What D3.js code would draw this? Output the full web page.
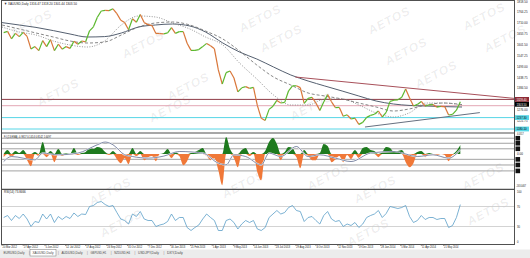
<!DOCTYPE html>
<html><head><meta charset="utf-8">
<script src="https://cdn.jsdelivr.net/npm/d3@7/dist/d3.min.js"></script>
<style>
body{margin:0;background:#fff}
svg{display:block}
text{font-family:"Liberation Sans",Arial,sans-serif}
</style></head>
<body><svg id="c" width="530" height="258"></svg>
<script>
// ---------- DATA ----------
const firstWeek = "2012-03-23";   // weekly samples (Fridays)
const closes = [1662,1668,1631,1658,1642,1663,1643,1580,1592,1572,
1622,1592,1627,1572,1604,1579,1592,1583,1619,1604,
1620,1616,1671,1691,1739,1770,1773,1772,1781,1757,
1724,1712,1676,1731,1714,1752,1712,1702,1697,1658,
1657,1656,1661,1687,1658,1667,1667,1609,1573,1573,
1577,1592,1608,1596,1581,1476,1405,1462,1470,1435,
1366,1386,1392,1383,1388,1297,1234,1223,1278,1294,
1323,1310,1313,1371,1396,1396,1387,1308,1333,1338,
1310,1273,1315,1352,1316,1287,1288,1244,1251,1230,
1234,1203,1213,1238,1248,1254,1270,1240,1263,1318,
1324,1326,1339,1380,1335,1295,1303,1318,1294,1301,
1302,1289,1293,1292,1250,1253,1274,1316];
const forceIndex = [-3,4,-3,3,1,4,-6,-12,2,-2,
12,-3,3,-8,5,-2,1,-1,6,-1,
1,2,6,5,7,6,2,-1,3,-5,
-9,-4,-10,6,-2,3,-6,-3,-2,-7,
0,1,5,-4,2,-2,-11,-7,1,2,
4,6,-2,-6,-4,-16,-31,17,5,-4,
-13,4,6,-2,2,-18,-26,3,12,16,
10,-6,2,7,6,-3,-14,4,-2,-6,
-6,1,10,8,-8,-5,-2,-8,-1,-5,
4,-4,6,7,4,3,-3,2,7,6,
2,3,4,-8,-13,-9,2,3,-3,1,
-1,-1,0,-1,-7,-1,3,9];
const fiSignalWeek = [0,2,8,10,14,19,24,26,28,31,33,37,41,45,51,55,57,59,62,66,68,71,75,78,81,85,89,94,100,106,110,114,117];
const fiSignal     = [-7.4,-2.4,-5.7,1,-0.7,1,9.3,12,9.3,-0.7,-2.4,-4,-2,2.6,1,-9,-10.7,-0.7,-2.4,-10.7,1,-2.4,7.6,-2.4,-0.7,-4,-7.4,1,2.6,-2.4,-0.7,-4,4.3];
const rsi = [48,52,42,52,46,55,45,30,40,38,
55,45,55,38,50,44,50,46,57,50,
55,54,70,72,78,80,74,70,72,58,
45,42,35,55,50,60,45,42,42,30,
33,35,40,55,42,48,48,28,22,28,
33,45,55,48,42,22,22,42,45,38,
25,35,42,38,42,25,22,28,48,55,
62,55,58,68,72,62,60,40,48,50,
42,35,52,60,45,40,42,30,35,32,
38,28,35,48,52,55,62,48,56,70,
68,66,68,72,50,38,42,52,44,48,
48,44,46,46,28,32,48,73.8];
const maDates = ["2012-03-20","2012-04-20","2012-05-20","2012-06-20","2012-07-20","2012-08-20","2012-09-20","2012-10-20","2012-11-20","2012-12-20","2013-01-20","2013-02-20","2013-03-20","2013-04-20","2013-05-20","2013-06-20","2013-07-20","2013-08-20","2013-09-20","2013-10-20","2013-11-20","2013-12-20","2014-01-20","2014-02-20","2014-03-20","2014-04-20","2014-05-20","2014-06-23"];
const maSlow = [1712,1700,1688,1672,1655,1640,1642,1660,1690,1700,1705,1695,1665,1610,1565,1530,1490,1450,1420,1395,1370,1345,1320,1305,1298,1295,1292,1290];
const maMid  = [1700,1680,1660,1640,1620,1610,1615,1650,1690,1710,1715,1700,1670,1630,1570,1500,1440,1400,1360,1345,1330,1310,1290,1270,1280,1300,1310,1302];
const maFast = [1690,1665,1650,1620,1600,1590,1620,1700,1745,1740,1710,1680,1640,1600,1510,1430,1350,1300,1300,1330,1330,1300,1260,1240,1260,1310,1310,1300];
const priceTicks = [1818.50,1764.25,1710.00,1655.75,1601.50,1547.25,1493.00,1438.75,1384.50,1276.00,1221.75];
const levelPrices = [1328,1296.5,1237,1180];
const levelLabels = ["1328.40","","1237.30","1180.10"];
const levelColors = ["#8e3b46","#e3a7b4","#57d6e6","#57d6e6"];
const boxColors = ["#8e2a36","none","#57d6e6","#57d6e6"];
const currentPrice = 1303.5;
const resLine = [["2013-08-28",1440],["2014-09-25",1333]];
const supLine = [["2013-12-31",1190],["2014-07-25",1262]];
const fiLevels = [15.8,10.8,5.3,-5.2,-10.8,-16.7];
const rsiLevels = [70,30];
const rsiTicks = [100,70,30,0];
const dateTicks = ["2012-03-20","2012-04-27","2012-06-05","2012-07-12","2012-08-17","2012-09-24","2012-10-31","2012-12-07","2013-01-16","2013-02-21","2013-04-01","2013-05-09","2013-06-14","2013-07-23","2013-08-29","2013-10-04","2013-11-12","2013-12-19","2014-01-28","2014-03-05","2014-04-11","2014-05-21"];
const tabs = ["EURUSD,Daily","XAUUSD,Daily","AUDUSD,Daily","GBPUSD,H1","NZDUSD,H4","USDJPY,Daily","DXY,Daily"];
const watermarks = [[33,27],[145,48],[60,96],[172,112],[190,90],[262,22],[283,42],[313,110],[391,24],[408,55],[438,78],[486,20],[507,42],[112,195],[123,227],[245,188],[330,180],[377,193],[370,236],[485,180],[490,215]];

// ---------- SETUP ----------
const svg = d3.select("#c");
const parse = d3.timeParse("%Y-%m-%d");
const L = 2, R = 514;
const mainTop = 1, mainBot = 133, fiBot = 189.3, rsiBot = 244;
const x = d3.scaleTime().domain([parse("2012-03-20"), parse("2014-06-23")]).range([2, 462]);
const y = d3.scaleLinear().domain([1180, 1795]).range([129, 6]);
const yFI = d3.scaleLinear().domain([-35, 21]).range([fiBot, mainBot]);
const yRSI = d3.scaleLinear().domain([0, 100]).range([241.5, 191.5]);
const weeks = d3.timeFriday.range(parse(firstWeek), d3.timeDay.offset(parse("2014-06-20"), 1));
const data = weeks.map((d, i) => ({d, c: closes[i], f: forceIndex[i], r: rsi[i]}));
function txt(g, xx, yy, s, size, perChar, fill) {
  return g.append("text").attr("x", xx).attr("y", yy).attr("font-size", size)
    .attr("fill", fill || "#222").attr("textLength", s.length * perChar)
    .attr("lengthAdjust", "spacingAndGlyphs").text(s);
}

svg.append("rect").attr("width", 530).attr("height", 258).attr("fill", "#fff");
svg.append("defs").append("clipPath").attr("id", "mc").append("rect")
  .attr("x", L).attr("y", mainTop).attr("width", R - L).attr("height", mainBot - mainTop);
svg.select("defs").append("clipPath").attr("id", "fc").append("rect")
  .attr("x", L).attr("y", mainBot).attr("width", R - L).attr("height", fiBot - mainBot);

// watermarks
svg.append("g").selectAll("text").data(watermarks).join("text")
  .attr("transform", d => `translate(${d[0]},${d[1]}) rotate(-28)`)
  .attr("text-anchor", "middle").attr("font-size", 12).attr("font-weight", "bold")
  .attr("font-style", "italic").attr("letter-spacing", 1).attr("fill", "#000").attr("fill-opacity", 0.08).text("AETOS");

// ---------- MAIN PANE ----------
const gm = svg.append("g").attr("clip-path", "url(#mc)");
gm.selectAll("line.lvl").data(levelPrices).join("line")
  .attr("x1", L).attr("x2", R).attr("y1", d => y(d)).attr("y2", d => y(d))
  .attr("stroke", (d, i) => levelColors[i]).attr("stroke-width", 1);
const maLine = arr => d3.line().curve(d3.curveMonotoneX).x((d, i) => x(parse(maDates[i]))).y(d => y(d))(arr);
gm.append("path").attr("d", maLine(maSlow)).attr("fill", "none").attr("stroke", "#556070").attr("stroke-width", 1);
gm.append("path").attr("d", maLine(maMid)).attr("fill", "none").attr("stroke", "#6a6a6a").attr("stroke-width", 0.8).attr("stroke-dasharray", "3,2");
gm.append("path").attr("d", maLine(maFast)).attr("fill", "none").attr("stroke", "#7a7a7a").attr("stroke-width", 0.8).attr("stroke-dasharray", "1,1.5");
const tl = pts => d3.line().x(d => x(parse(d[0]))).y(d => y(d[1]))(pts);
gm.append("path").attr("d", tl(resLine)).attr("stroke", "#a8505a").attr("stroke-width", 1).attr("fill", "none");
gm.append("path").attr("d", tl(supLine)).attr("stroke", "#667080").attr("stroke-width", 1).attr("fill", "none");
gm.selectAll("line.px").data(data.slice(1)).join("line")
  .attr("x1", (d, i) => x(data[i].d)).attr("y1", (d, i) => y(data[i].c))
  .attr("x2", d => x(d.d)).attr("y2", d => y(d.c))
  .attr("stroke", (d, i) => d.c >= data[i].c ? "#5cb82e" : "#d9773a").attr("stroke-width", 1.2);

// ---------- FORCE INDEX PANE ----------
const gf = svg.append("g").attr("clip-path", "url(#fc)");
gf.selectAll("line.fl").data(fiLevels).join("line")
  .attr("x1", L).attr("x2", R).attr("y1", d => yFI(d)).attr("y2", d => yFI(d))
  .attr("stroke", "#8a8a8a").attr("stroke-width", 0.8);
const areaPos = d3.area().curve(d3.curveMonotoneX).x(d => x(d.d)).y0(yFI(0)).y1(d => yFI(Math.max(0, d.f)));
const areaNeg = d3.area().curve(d3.curveMonotoneX).x(d => x(d.d)).y0(yFI(0)).y1(d => yFI(Math.min(0, d.f)));
gf.append("path").attr("d", areaPos(data)).attr("fill", "#1e7a1e");
gf.append("path").attr("d", areaNeg(data)).attr("fill", "#f07838");
const sigLine = d3.line().curve(d3.curveMonotoneX).x((d, i) => x(weeks[fiSignalWeek[i]])).y(d => yFI(d));
gf.append("path").attr("d", sigLine(fiSignal)).attr("fill", "none").attr("stroke", "#fff").attr("stroke-width", 1.6);
gf.append("path").attr("d", sigLine(fiSignal)).attr("fill", "none").attr("stroke", "#2c3c6c").attr("stroke-width", 0.6);

// ---------- RSI PANE ----------
svg.selectAll("line.rl").data(rsiLevels).join("line")
  .attr("x1", L).attr("x2", R).attr("y1", d => yRSI(d)).attr("y2", d => yRSI(d))
  .attr("stroke", "#c8c8c8").attr("stroke-width", 0.8);
svg.append("path").datum(data).attr("d", d3.line().x(d => x(d.d)).y(d => yRSI(d.r)))
  .attr("fill", "none").attr("stroke", "#5a9ec8").attr("stroke-width", 0.8);

// ---------- FRAMES ----------
const frame = svg.append("g").attr("fill", "none").attr("stroke", "#505050");
frame.append("rect").attr("x", L - 0.5).attr("y", mainTop - 0.5).attr("width", R - L + 1).attr("height", rsiBot - mainTop + 1).attr("stroke-width", 1);
[mainBot, fiBot].forEach(v => frame.append("line").attr("x1", L).attr("x2", R).attr("y1", v).attr("y2", v).attr("stroke-width", 1.2));

// ---------- RIGHT AXIS ----------
const ax = svg.append("g");
priceTicks.forEach(v => txt(ax, R + 3, y(v) + 1.3, v.toFixed(2), 3.8, 1.5));
levelPrices.forEach((v, i) => {
  if (boxColors[i] === "none") return;
  ax.append("rect").attr("x", R + 1).attr("y", y(v) - 2.4).attr("width", 14).attr("height", 4.8).attr("fill", boxColors[i]);
  txt(ax, R + 2.5, y(v) + 1.3, levelLabels[i], 3.6, 1.45, i === 0 ? "#fff" : "#000");
});
ax.append("rect").attr("x", R + 1).attr("y", y(currentPrice) - 2.4).attr("width", 14).attr("height", 4.8).attr("fill", "#000");
txt(ax, R + 2.5, y(currentPrice) + 1.3, currentPrice.toFixed(2), 3.6, 1.45, "#fff");
fiLevels.forEach(v => {
  ax.append("rect").attr("x", R + 1.5).attr("y", yFI(v) - 2.3).attr("width", 4.6).attr("height", 4.6).attr("fill", "#111");
});
txt(ax, R + 3, yFI(0) + 1.3, "0.00", 3.8, 1.5);
txt(ax, R + 3, 135.3, "4.0317", 3.4, 1.1);
txt(ax, R + 2, 186.5, "-163.0467", 3.4, 1.1);
rsiTicks.forEach(v => txt(ax, R + 3, yRSI(v) + 1.3, String(v), 3.8, 1.5));

// ---------- DATE AXIS ----------
const dfmt = d3.timeFormat("%-d %b %Y");
const gx = svg.append("g");
dateTicks.forEach(s => {
  const xx = x(parse(s));
  gx.append("line").attr("x1", xx).attr("x2", xx).attr("y1", rsiBot).attr("y2", rsiBot + 2).attr("stroke", "#555").attr("stroke-width", 0.6);
  txt(gx, xx + 0.5, 248.3, dfmt(parse(s)), 3.6, 1.3);
});

// ---------- LABELS ----------
txt(svg, 4, 4.8, "\u25BC XAUUSD,Daily  1316.47 1318.20 1301.44 1303.50", 3.8, 1.55);
txt(svg, 4, 137.6, "F.I.(13,EMA) -0.9817 0.1414 0.8142 1.6497", 3.6, 1.15);
txt(svg, 4, 193.4, "RSI(14) 73.8466", 3.6, 1.45);

// ---------- TABS ----------
svg.append("rect").attr("x", 0).attr("y", 249.5).attr("width", 530).attr("height", 8.5).attr("fill", "#ececec");
let tx = 3;
const gt = svg.append("g");
tabs.forEach((t, i) => {
  const w = t.length * 1.75 + 5;
  if (i === 1) gt.append("rect").attr("x", tx - 2).attr("y", 249.5).attr("width", w).attr("height", 6.5).attr("fill", "#fff").attr("stroke", "#777").attr("stroke-width", 0.5);
  txt(gt, tx + 0.5, 254, t, 3.6, 1.75, "#444");
  if (i !== 0) txt(gt, tx - 3, 254, "|", 3.6, 0.8, "#666");
  tx += w + 3;
});
</script></body></html>
